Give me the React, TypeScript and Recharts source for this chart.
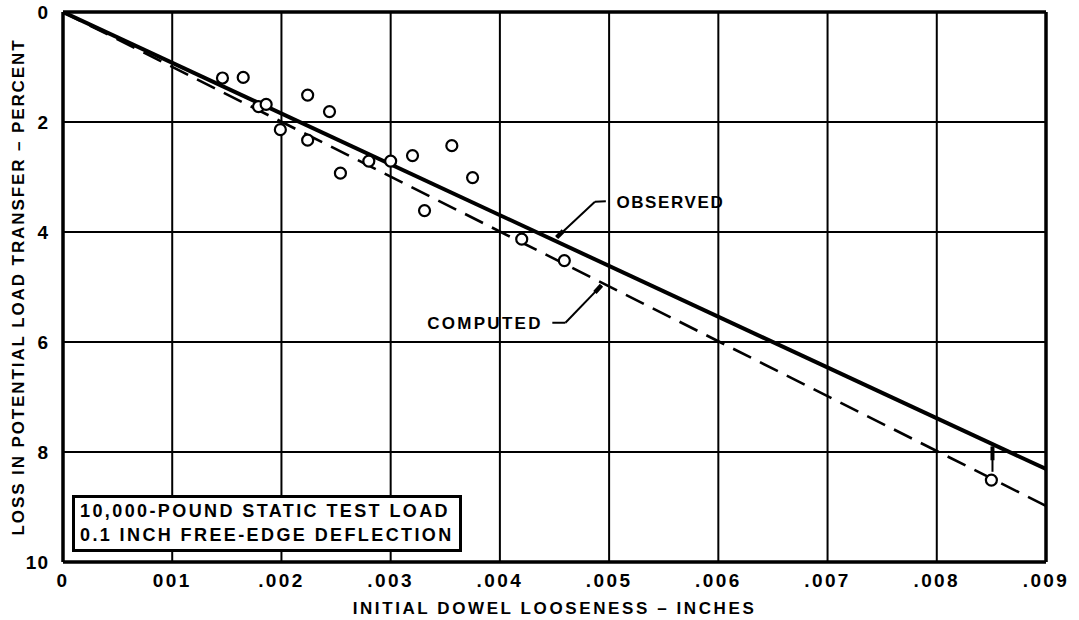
import {
  ReferenceDot,
  ReferenceLine,
  Scatter,
  ScatterChart,
  XAxis,
  YAxis,
  CartesianGrid,
} from 'recharts'

// dowel looseness (inches) vs loss in potential load transfer (percent)
const looseness = [
  0.00146, 0.00165, 0.00179, 0.00186, 0.00224, 0.00244, 0.00199, 0.00224, 0.00254,
  0.0028, 0.003, 0.0032, 0.00356, 0.00375, 0.00331, 0.0042, 0.00459, 0.0085,
]
const loss = [
  1.2, 1.19, 1.72, 1.68, 1.51, 1.81, 2.14, 2.33, 2.93,
  2.71, 2.71, 2.61, 2.43, 3.01, 3.61, 4.13, 4.52, 8.51,
]

const lineX = [0, 0.009]
const observedY = [0, 8.31]
const computedY = [0, 8.98]

const xTicks = [0, 0.001, 0.002, 0.003, 0.004, 0.005, 0.006, 0.007, 0.008, 0.009]
const xTickLabels = ['0', '001', '.002', '.003', '.004', '.005', '.006', '.007', '.008', '.009']
const yTicks = [0, 2, 4, 6, 8, 10]
const yTickLabels = ['0', '2', '4', '6', '8', '10']

// leader lines for the two callouts, in data units
const observedLeader = [
  { x: 0.00497, y: 3.44 },
  { x: 0.00487, y: 3.45 },
  { x: 0.00452, y: 4.1 },
]
const computedLeader = [
  { x: 0.00448, y: 5.65 },
  { x: 0.0046, y: 5.65 },
  { x: 0.00493, y: 4.97 },
]
const offsetMark = [
  { x: 0.00851, y: 7.9 },
  { x: 0.00851, y: 8.36 },
]

const points = looseness.map((x, i) => ({ x, y: loss[i] }))
const observed = lineX.map((x, i) => ({ x, y: observedY[i] }))
const computed = lineX.map((x, i) => ({ x, y: computedY[i] }))

const FONT = '"Liberation Sans", Arial, sans-serif'
const textStyle = { fontFamily: FONT, fontWeight: 700, fill: '#000' }

function Ring(props: any) {
  const { cx, cy } = props
  if (cx == null || cy == null) return <g />
  return <circle cx={cx} cy={cy} r={5.5} fill="#fff" stroke="#000" strokeWidth={2.2} />
}

function XTick(props: any) {
  const { x, y, payload } = props
  return (
    <text x={x} y={y + 19} textAnchor="middle" style={{ ...textStyle, fontSize: 19, letterSpacing: 2.4 }}>
      {xTickLabels[Math.round(payload.value * 1000)]}
    </text>
  )
}

function YTick(props: any) {
  const { x, y, payload } = props
  return (
    <text
      x={x - 1}
      y={y}
      textAnchor="end"
      dominantBaseline="central"
      style={{ ...textStyle, fontSize: 19, letterSpacing: 1 }}
    >
      {yTickLabels[payload.value / 2]}
    </text>
  )
}

function segs(pts: { x: number; y: number }[]) {
  const out = []
  for (let i = 0; i < pts.length - 1; i++) out.push([pts[i], pts[i + 1]])
  return out
}

export default function App() {
  return (
    <div style={{ position: 'absolute', left: 0, top: 0, width: 1079, height: 620, background: '#fff' }}>
      <ScatterChart width={1079} height={620} margin={{ top: 12, right: 33, bottom: 28, left: 0 }}>
        <CartesianGrid stroke="#000" strokeWidth={2} />
        <XAxis
          type="number"
          dataKey="x"
          domain={[0, 0.009]}
          ticks={xTicks}
          tickLine={false}
          tickSize={6}
          tickMargin={0}
          height={30}
          axisLine={{ stroke: '#000', strokeWidth: 3.5 }}
          tick={<XTick />}
          allowDataOverflow
          label={{
            value: 'INITIAL DOWEL LOOSENESS – INCHES',
            position: 'insideBottom',
            offset: -22,
            style: { ...textStyle, fontSize: 17, letterSpacing: 2.6 },
          }}
        />
        <YAxis
          type="number"
          dataKey="y"
          reversed
          domain={[0, 10]}
          ticks={yTicks}
          tickLine={false}
          tickSize={6}
          tickMargin={7}
          width={63}
          axisLine={{ stroke: '#000', strokeWidth: 3.5 }}
          tick={<YTick />}
          allowDataOverflow
          label={{
            content: (p: any) => {
              const vb = p.viewBox
              const cx = vb.x + 18
              const cy = vb.y + vb.height / 2
              return (
                <text
                  x={cx}
                  y={cy}
                  transform={`rotate(-90 ${cx} ${cy})`}
                  textAnchor="middle"
                  dominantBaseline="central"
                  style={{ ...textStyle, fontSize: 17, letterSpacing: 1.9 }}
                >
                  LOSS IN POTENTIAL LOAD TRANSFER – PERCENT
                </text>
              )
            },
          }}
        />
        <ReferenceLine y={0} stroke="#000" strokeWidth={3.5} />
        <ReferenceLine x={0.009} stroke="#000" strokeWidth={3.5} />

        <Scatter
          data={observed}
          line={{ stroke: '#000', strokeWidth: 4 }}
          shape={() => <g />}
          isAnimationActive={false}
        />
        <Scatter
          data={computed}
          line={{ stroke: '#000', strokeWidth: 2.6, strokeDasharray: '20 10' }}
          shape={() => <g />}
          isAnimationActive={false}
        />

        {segs(observedLeader).map((s, i) => (
          <ReferenceLine key={'o' + i} segment={s} stroke="#000" strokeWidth={2} ifOverflow="visible" />
        ))}
        <ReferenceLine
          segment={[observedLeader[2], { x: 0.00458, y: 3.98 }]}
          stroke="#000"
          strokeWidth={4.5}
        />
        {segs(computedLeader).map((s, i) => (
          <ReferenceLine key={'c' + i} segment={s} stroke="#000" strokeWidth={2} ifOverflow="visible" />
        ))}
        <ReferenceLine
          segment={[computedLeader[2], { x: 0.00487, y: 5.1 }]}
          stroke="#000"
          strokeWidth={4.5}
        />
        <ReferenceLine segment={offsetMark} stroke="#000" strokeWidth={2} />
        <ReferenceLine segment={[offsetMark[0], { x: 0.00851, y: 8.15 }]} stroke="#000" strokeWidth={4} />

        <ReferenceDot
          x={0.00503}
          y={3.45}
          r={0}
          label={{ value: 'OBSERVED', position: 'right', offset: 4, style: { ...textStyle, fontSize: 17, letterSpacing: 1.6 } }}
        />
        <ReferenceDot
          x={0.00443}
          y={5.65}
          r={0}
          label={{ value: 'COMPUTED', position: 'left', offset: 4, style: { ...textStyle, fontSize: 17, letterSpacing: 2.3 } }}
        />

        <Scatter data={points} shape={Ring} isAnimationActive={false} />
      </ScatterChart>

      <div
        style={{
          position: 'absolute',
          left: 72,
          top: 495,
          width: 379,
          height: 50,
          border: '3px solid #000',
          background: '#fff',
          fontFamily: FONT,
          fontWeight: 700,
          fontSize: 18,
          letterSpacing: 2.4,
          lineHeight: '24px',
          padding: '1px 0 0 5px',
          whiteSpace: 'nowrap',
        }}
      >
        <div>10,000-POUND STATIC TEST LOAD</div>
        <div>0.1 INCH FREE-EDGE DEFLECTION</div>
      </div>
    </div>
  )
}
